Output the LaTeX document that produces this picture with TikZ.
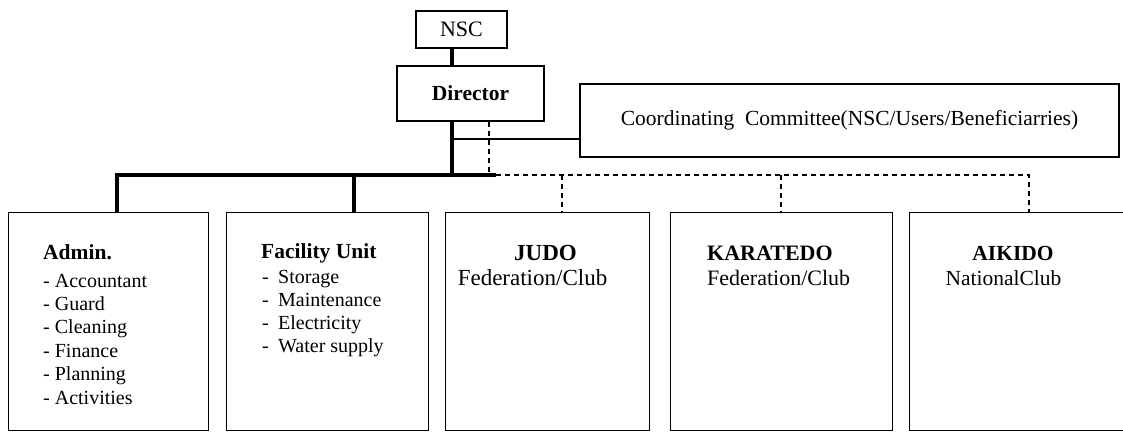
\documentclass[tikz,border=0pt]{standalone}
\usepackage{fontspec}
\setmainfont{Liberation Serif}
\begin{document}
\begin{tikzpicture}[x=1pt,y=-1pt,
  box/.style={draw, line width=1.2pt, rectangle, inner sep=0pt, anchor=north west},
  tbox/.style={draw, line width=1.2pt, rectangle, inner sep=0pt},
  trunk/.style={line width=4.5pt},
  link/.style={line width=1.1pt},
  dotlink/.style={line width=1.2pt, dash pattern=on 5pt off 4pt},
  head/.style={font=\fontsize{21.5}{24}\selectfont\bfseries, inner sep=0pt},
  sub/.style={font=\fontsize{21.5}{24}\selectfont, inner sep=0pt},
  item/.style={font=\fontsize{20}{23}\selectfont, inner sep=0pt, anchor=base west}]
\useasboundingbox (0,0) rectangle (1123,431);
\fill[white] (0,0) rectangle (1123,431);

% top of the chart
\node[tbox, minimum width=91pt, minimum height=37pt,
      font=\fontsize{22}{24}\selectfont] (nsc) at (461.5,29.5) {NSC};
\node[tbox, minimum width=147pt, minimum height=55pt,
      font=\fontsize{21.5}{24}\selectfont\bfseries] (dir) at (470.5,93.5) {Director};
\node[tbox, minimum width=539pt, minimum height=73pt,
      font=\fontsize{21.5}{24}\selectfont] (coord) at (849.5,120.5)
      {Coordinating\ \ Committee(NSC/Users/Beneficiarries)};

% lower units
\node[box, minimum width=200pt, minimum height=218pt] (admin) at (8,212) {};
\node[box, minimum width=202pt, minimum height=218pt] (fac) at (226,212) {};
\node[box, minimum width=204pt, minimum height=218pt] (judo) at (445,212) {};
\node[box, minimum width=222pt, minimum height=218pt] (karate) at (670,212) {};
\node[box, minimum width=230pt, minimum height=218pt] (aikido) at (909,212) {};

% unit texts
\node[head, anchor=base west] (admint) at (43,259) {Admin.};
\foreach [count=\k] \t in {Accountant,Guard,Cleaning,Finance,Planning,Activities}
  \node[item] (adm\k) at (43,{287+23.4*(\k-1)}) {-\ \t};

\node[head, anchor=base west] (fact) at (261,258) {Facility Unit};
\foreach [count=\k] \t in {Storage,Maintenance,Electricity,Water supply}
  \node[item] (fac\k) at (262,{283+23*(\k-1)}) {-\hspace{9.3pt}\t};

\node[head, anchor=base, font=\fontsize{23}{25}\selectfont\bfseries] (judot) at (545.5,260) {JUDO};
\node[sub, anchor=base, font=\fontsize{23}{25}\selectfont] (judos) at (532.5,285) {Federation/Club};

\node[head, anchor=base west, font=\fontsize{22}{24}\selectfont\bfseries] (karatet) at (707,260) {KARATEDO};
\node[sub, anchor=base west, font=\fontsize{22}{24}\selectfont] (karates) at (707,285) {Federation/Club};

\node[head, anchor=base] (aikidot) at (1013,260) {AIKIDO};
\node[sub, anchor=base] (aikidos) at (1003.5,285) {NationalClub};

% connector points
\coordinate (spine) at (452,0);
\coordinate (aux) at (489,0);
\coordinate (tap) at (452,139);
\coordinate (busL) at (117,175);
\coordinate (busR) at (496,175);
\coordinate (facdrop) at (354,175);
\coordinate (judodrop) at (562,175);
\coordinate (karatedrop) at (781,175);
\coordinate (aikidodrop) at (1029,175);

% solid line of command
\draw[trunk] (nsc.south -| spine) -- (dir.north -| spine);
\draw[trunk] (dir.south -| spine) -- (spine |- busL);
\draw[trunk, line join=miter] (admin.north -| busL) -- (busL) -- (busR);
\draw[trunk] (facdrop) -- (facdrop |- fac.north);
\draw[link] (tap) -- (tap -| coord.west);

% dashed line of coordination
\draw[dotlink] (dir.south -| aux) -- (aux |- busR);
\draw[dotlink] (busR) -- (aikidodrop) -- (aikidodrop |- aikido.north);
\draw[dotlink] (judodrop) -- (judodrop |- judo.north);
\draw[dotlink] (karatedrop) -- (karatedrop |- karate.north);
\end{tikzpicture}
\end{document}
